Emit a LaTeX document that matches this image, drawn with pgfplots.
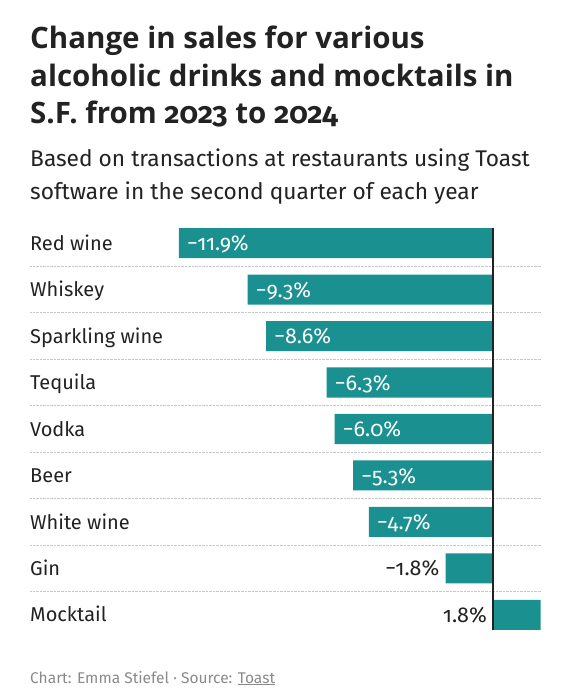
\documentclass[border=0pt]{standalone}
\usepackage{fontspec}
\setmainfont{Fira Sans}[Numbers=OldStyle]
\newfontfamily\titlefont{Open Sans}
\newfontfamily\osf{Fira Sans}[Numbers=OldStyle]
\usepackage{pgfplots}
\pgfplotsset{compat=1.18}
\definecolor{barteal}{HTML}{1A9090}
\definecolor{ink}{HTML}{222222}
\definecolor{foot}{HTML}{8A8A8A}
\definecolor{sep}{HTML}{C8C8C8}

\begin{document}
\begin{tikzpicture}
\path[use as bounding box] (0bp,0bp) rectangle (572bp,700bp);

% title and subtitle
\begin{scope}[every node/.style={anchor=base west, inner sep=0pt, text=ink}]
\node[font=\fontsize{29.5bp}{34bp}\selectfont\titlefont\bfseries] at (30bp,651bp) {Change in sales for various};
\node[font=\fontsize{29.5bp}{34bp}\selectfont\titlefont\bfseries] at (30bp,613bp) {alcoholic drinks and mocktails in};
\node[font=\fontsize{29.5bp}{34bp}\selectfont\titlefont\bfseries] at (30bp,576bp) {S.F. from {\osf\bfseries 2023} to {\osf\bfseries 2024}};
\node[font=\fontsize{22.7bp}{26bp}\selectfont] at (30bp,533bp) {Based on transactions at restaurants using Toast};
\node[font=\fontsize{22.7bp}{26bp}\selectfont] at (30bp,500bp) {software in the second quarter of each year};
\node[font=\fontsize{15.5bp}{19bp}\selectfont, text=foot] at (30bp,17bp) {Chart: Emma Stiefel · Source: \underline{Toast}};
\end{scope}

\begin{axis}[
  at={(30bp,61.75bp)}, anchor=south west,
  scale only axis, width=511bp, height=418.5bp,
  xmin=-17.545, xmax=1.819,
  ymin=-0.5, ymax=8.5,
  axis line style={draw=none},
  major tick length=0pt, minor tick length=0pt,
  xtick=\empty,
  ytick={0,...,8},
  yticklabels={Mocktail, Gin, White wine, Beer, Vodka, Tequila, Sparkling wine, Whiskey, Red wine},
  yticklabel style={anchor=base west, inner sep=0pt, yshift=-7bp, text=ink,
    font=\fontsize{20bp}{24bp}\selectfont},
  minor ytick={0.5,1.5,...,7.5},
  yminorgrids=true,
  minor grid style={sep, densely dotted, line width=0.7bp},
  clip=false,
]
\addplot[xbar, bar width=30bp, fill=barteal, draw=none] coordinates {
  (-11.9,8) (-9.3,7) (-8.6,6) (-6.3,5) (-6.0,4) (-5.3,3) (-4.7,2) (-1.8,1) (1.8,0)};

% labels inside the bars
\addplot[draw=none, mark=none, nodes near coords, point meta=explicit symbolic,
  nodes near coords style={anchor=base west, xshift=8bp, yshift=-7.5bp, inner sep=0pt,
    text=white, font=\fontsize{21.5bp}{24bp}\selectfont}] coordinates {
  (-11.9,8) [−11.9\%] (-9.3,7) [−9.3\%] (-8.6,6) [−8.6\%] (-6.3,5) [−6.3\%]
  (-6.0,4) [−6.0\%] (-5.3,3) [−5.3\%] (-4.7,2) [−4.7\%]};

% labels outside the bars
\addplot[draw=none, mark=none, nodes near coords, point meta=explicit symbolic,
  nodes near coords style={anchor=base east, xshift=-6bp, yshift=-7.5bp, inner sep=0pt,
    text=ink, font=\fontsize{21.5bp}{24bp}\selectfont}] coordinates {
  (-1.8,1) [−1.8\%] (0,0) [1.8\%]};

\draw[ink, line width=1.5bp] (axis cs:0,-0.33) -- (axis cs:0,8.33);
\end{axis}
\end{tikzpicture}
\end{document}
